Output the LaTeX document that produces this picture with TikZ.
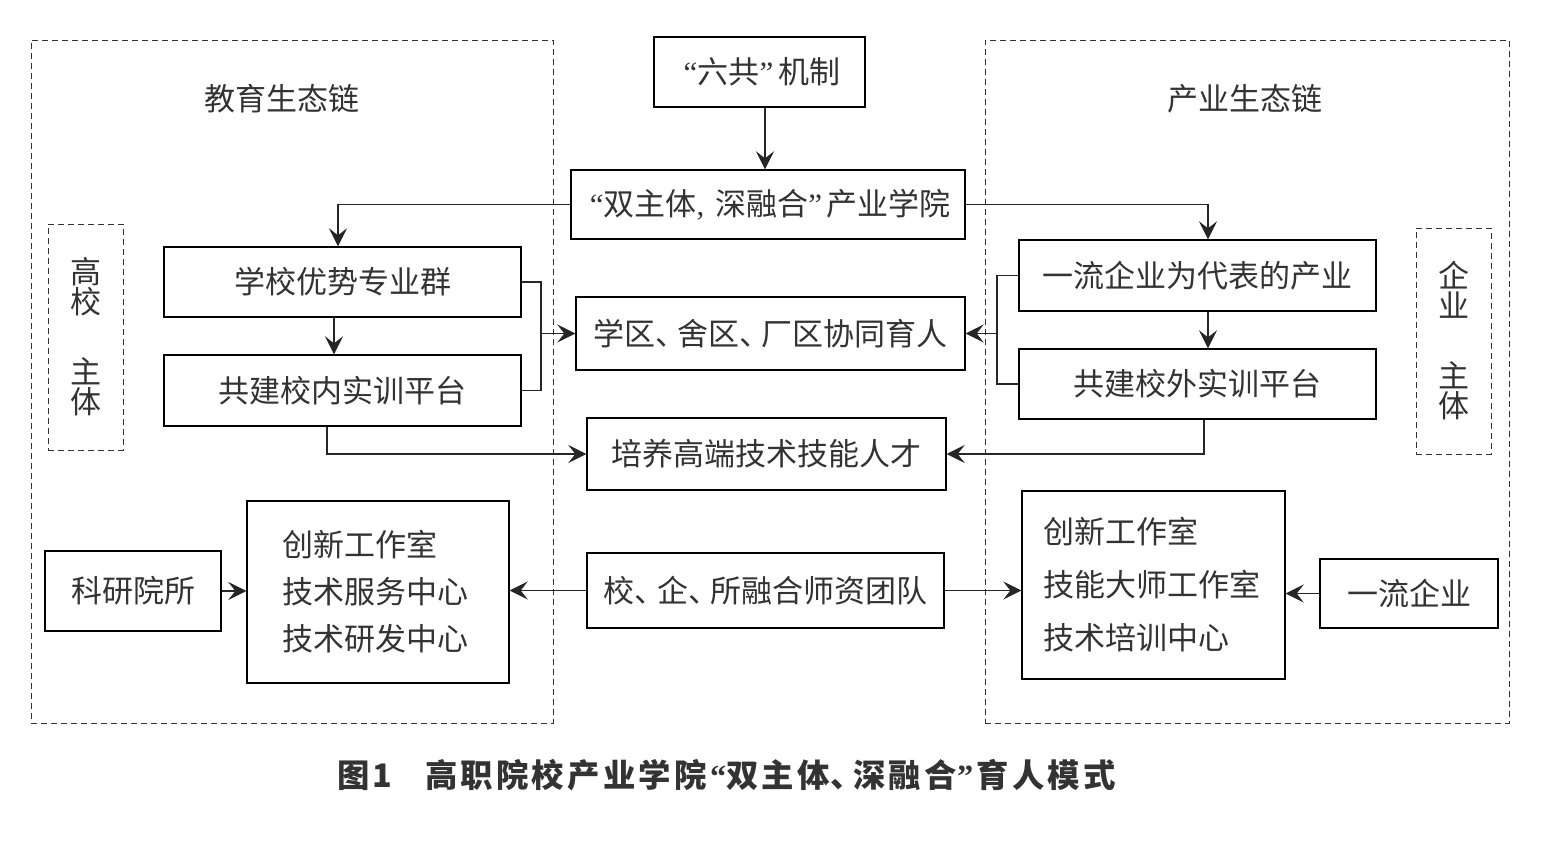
\documentclass[tikz,border=0pt]{standalone}
\usepackage{fontspec}
\setmainfont{Noto Sans CJK SC}
\newfontfamily\latq{Liberation Serif}
\usetikzlibrary{arrows.meta}
\definecolor{ink}{HTML}{333333}
\newcommand\myoq{\makebox[0.6em][r]{\latq “}}
\newcommand\mycq{\makebox[0.6em][l]{\latq ”}}
\newcommand\mycomma{\makebox[0.6em][l]{\latq ,}}
\newcommand\mydun{\makebox[0.72em][l]{、}}
\tikzset{
  x=0.5pt, y=-0.5pt,
  box/.style={draw=black, line width=0.7pt, inner sep=0pt, text=ink,
    font=\fontsize{15.5pt}{18pt}\selectfont},
  dbox/.style={draw=black!80, line width=0.5pt, dash pattern=on 3pt off 2pt, inner sep=0pt},
  lbl/.style={text=ink, inner sep=0pt, font=\fontsize{15.5pt}{18pt}\selectfont},
  conn/.style={draw=black!85, line width=0.6pt},
  arr/.style={conn, -{Stealth[length=9pt,width=9pt,inset=3.5pt]}},
}
\begin{document}
\begin{tikzpicture}
\useasboundingbox[fill=white] (0,0) rectangle (1547,848);
% dashed frames
\node[dbox, minimum width=261pt, minimum height=341.5pt] (outl) at (292,381.5) {};
\node[dbox, minimum width=262pt, minimum height=341.5pt] (outr) at (1247,381.5) {};
\node[dbox, minimum width=37.5pt, minimum height=113pt, text=ink, align=center,
  font=\fontsize{15.5pt}{15pt}\selectfont] (gaoxiao) at (85.5,337) {高\\校\\[20pt]主\\体};
\node[dbox, minimum width=37.5pt, minimum height=113pt, text=ink, align=center,
  font=\fontsize{15.5pt}{15pt}\selectfont] (qiye) at (1453.5,341) {企\\业\\[20pt]主\\体};
% labels
\node[lbl] (jiaoyu) at (282,99) {教育生态链};
\node[lbl] (chanye) at (1245,99) {产业生态链};
% boxes
\node[box, minimum width=105.5pt, minimum height=35pt] (liu) at (759.5,72) {\myoq 六共\mycq 机制};
\node[box, minimum width=197pt, minimum height=34.5pt] (shuang) at (768,204.5) {\myoq 双主体\mycomma 深融合\mycq 产业学院};
\node[box, minimum width=178.5pt, minimum height=35pt] (xuexiao) at (342.5,282) {学校优势专业群};
\node[box, minimum width=178.5pt, minimum height=35.5pt] (xiaonei) at (342.5,390.5) {共建校内实训平台};
\node[box, minimum width=194.5pt, minimum height=36.5pt] (xuequ) at (770.5,333.5) {学区\mydun 舍区\mydun 厂区协同育人};
\node[box, minimum width=178.5pt, minimum height=35.5pt] (yiliu) at (1197.5,275.5) {一流企业为代表的产业};
\node[box, minimum width=178.5pt, minimum height=35pt] (xiaowai) at (1197.5,384) {共建校外实训平台};
\node[box, minimum width=179.5pt, minimum height=36pt] (peiyang) at (766.5,454) {培养高端技术技能人才};
\node[box, minimum width=88pt, minimum height=40pt] (keyan) at (133,591) {科研院所};
\node[box, minimum width=131pt, minimum height=91pt, inner xsep=17.5pt, text width=96pt,
  align=left, font=\fontsize{15.5pt}{23.5pt}\selectfont] (lcenter) at (378,592)
  {创新工作室\\技术服务中心\\技术研发中心};
\node[box, minimum width=178.5pt, minimum height=37.5pt] (shizi) at (765.5,590.5) {校\mydun 企\mydun 所融合师资团队};
\node[box, minimum width=131.5pt, minimum height=94pt, inner xsep=10.5pt, text width=110.5pt,
  align=left, font=\fontsize{15.5pt}{26.5pt}\selectfont] (rcenter) at (1153.5,585)
  {创新工作室\\技能大师工作室\\技术培训中心};
\node[box, minimum width=89pt, minimum height=34.5pt] (yiliuqy) at (1409,593.5) {一流企业};
% caption
\node[inner sep=0pt, text=ink, font=\fontsize{16.2pt}{18pt}\selectfont\bfseries\addfontfeature{LetterSpace=10}] (cap) at (726.5,775)
  {图1\hspace{1em}高职院校产业学院\myoq 双主体\mydun 深融合\mycq 育人模式};
% connectors
\draw[arr] ([xshift=2.75pt]liu.south) -- ([xshift=2.75pt]liu.south |- shuang.north);
\draw[arr] (shuang.west) -| ([xshift=-2.25pt]xuexiao.north);
\draw[arr] (shuang.east) -| ([xshift=5.25pt]yiliu.north);
\coordinate (jl) at (541,333.5);
\coordinate (jr) at (997,333.5);
\draw[conn] (xuexiao.east) -| (jl) |- (xiaonei.east);
\draw[arr] (jl) -- (xuequ.west);
\draw[conn] (yiliu.west) -| (jr) |- (xiaowai.west);
\draw[arr] (jr) -- (xuequ.east);
\draw[arr] ([xshift=-4.25pt]xuexiao.south) -- ([xshift=-4.25pt]xiaonei.north);
\draw[arr] ([xshift=5.25pt]yiliu.south) -- ([xshift=5.25pt]xiaowai.north);
\draw[arr] ([xshift=-7.75pt]xiaonei.south) |- (peiyang.west);
\draw[arr] ([xshift=3.25pt]xiaowai.south) |- (peiyang.east);
\draw[arr] (keyan.east) -- (keyan.east -| lcenter.west);
\draw[arr] (shizi.west) -- (shizi.west -| lcenter.east);
\draw[arr] (shizi.east) -- (shizi.east -| rcenter.west);
\draw[arr] (yiliuqy.west) -- (yiliuqy.west -| rcenter.east);
\end{tikzpicture}
\end{document}
